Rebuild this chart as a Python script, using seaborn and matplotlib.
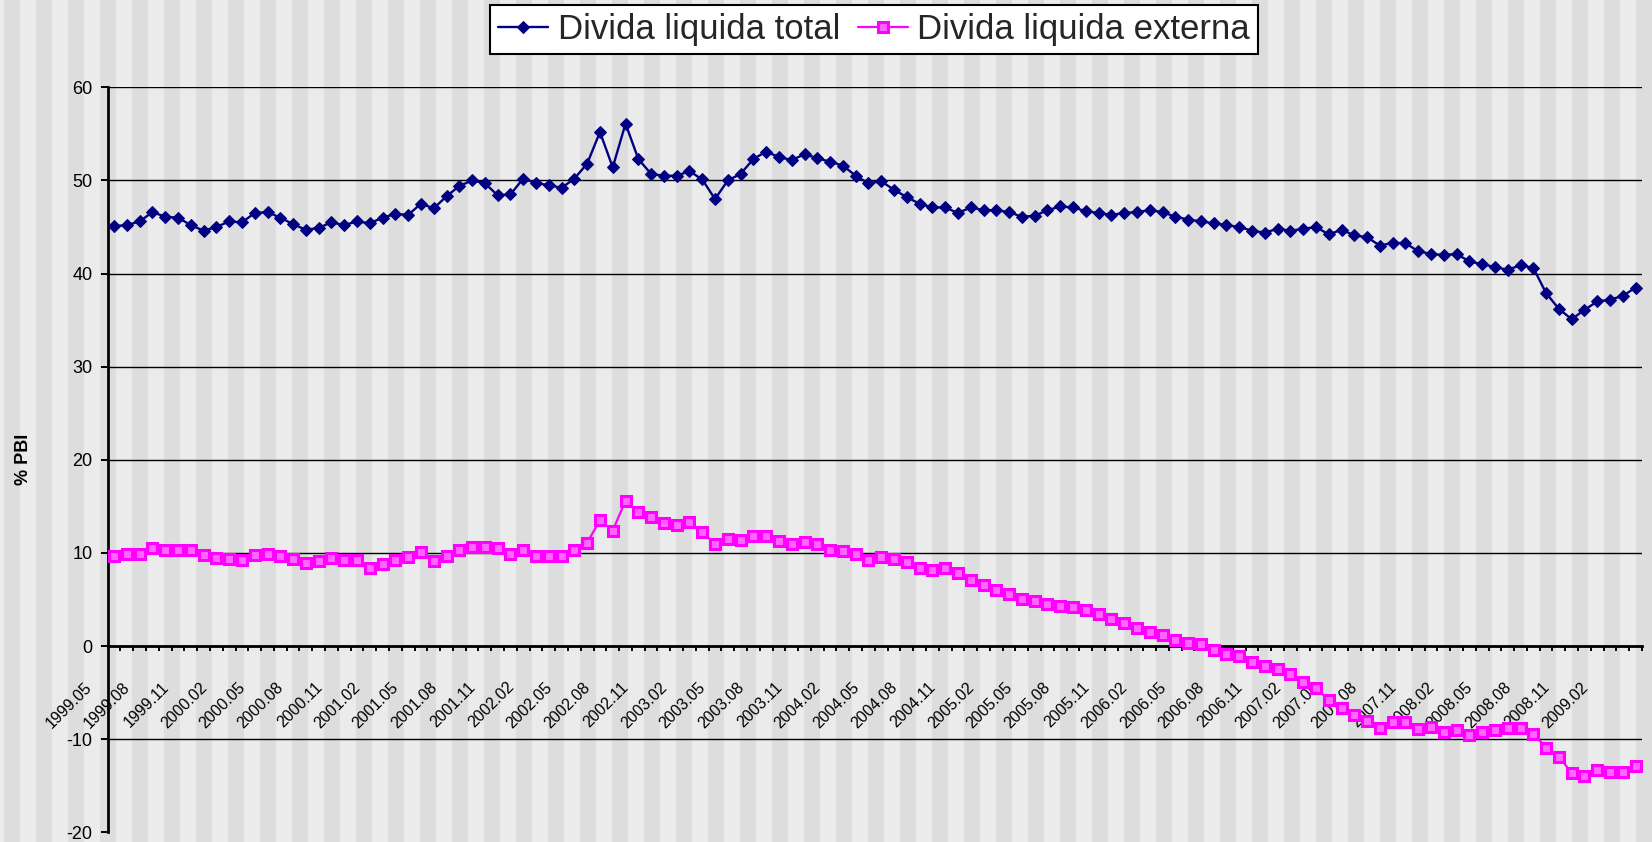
import numpy as np
import pandas as pd
import matplotlib
matplotlib.use("Agg")
import matplotlib.pyplot as plt
import matplotlib.transforms as mtransforms
from matplotlib.patches import Rectangle
import seaborn as sns

# ---------------- data ----------------
months = [f"{p.year}.{p.month:02d}" for p in pd.period_range("1999-05", periods=120, freq="M")]

tick_labels = ["1999.05", "1999.08", "1999.11", "2000.02", "2000.05", "2000.08", "2000.11",
               "2001.02", "2001.05", "2001.08", "2001.11", "2002.02", "2002.05", "2002.08",
               "2002.11", "2003.02", "2003.05", "2003.08", "2003.11", "2004.02", "2004.05",
               "2004.08", "2004.11", "2005.02", "2005.05", "2005.08", "2005.11", "2006.02",
               "2006.05", "2006.08", "2006.11", "2007.02", "2007.05", "2007.08", "2007.11",
               "2008.02", "2008.05", "2008.08", "2008.11", "2009.02"]

divida_total = [
    45.1, 45.2, 45.6, 46.6, 46.1, 46.0, 45.2, 44.6, 45.0, 45.6,
    45.5, 46.5, 46.6, 46.0, 45.3, 44.7, 44.9, 45.5, 45.2, 45.6,
    45.4, 46.0, 46.4, 46.3, 47.5, 47.0, 48.3, 49.4, 50.0, 49.7,
    48.4, 48.5, 50.2, 49.7, 49.5, 49.2, 50.2, 51.8, 55.2, 51.4,
    56.1, 52.3, 50.7, 50.5, 50.5, 51.0, 50.1, 48.0, 50.0, 50.7,
    52.3, 53.1, 52.5, 52.2, 52.8, 52.4, 52.0, 51.6, 50.5, 49.7,
    49.9, 49.0, 48.2, 47.5, 47.1, 47.1, 46.5, 47.1, 46.8, 46.8,
    46.6, 46.1, 46.2, 46.8, 47.2, 47.1, 46.7, 46.5, 46.3, 46.5,
    46.6, 46.8, 46.6, 46.1, 45.8, 45.6, 45.4, 45.2, 45.0, 44.6,
    44.4, 44.8, 44.6, 44.8, 45.0, 44.2, 44.7, 44.1, 43.9, 43.0,
    43.3, 43.25, 42.4, 42.1, 42.0, 42.1, 41.3, 41.0, 40.7, 40.4,
    40.9, 40.6, 37.9, 36.2, 35.1, 36.1, 37.0, 37.2, 37.6, 38.5,
]

divida_externa = [
    9.7, 9.9, 9.9, 10.5, 10.3, 10.3, 10.3, 9.8, 9.5, 9.3,
    9.2, 9.8, 9.9, 9.7, 9.3, 8.9, 9.1, 9.5, 9.2, 9.2,
    8.4, 8.8, 9.2, 9.6, 10.1, 9.1, 9.7, 10.3, 10.6, 10.6,
    10.5, 9.9, 10.3, 9.7, 9.7, 9.7, 10.3, 11.1, 13.5, 12.4,
    15.6, 14.4, 13.9, 13.2, 13.0, 13.3, 12.2, 11.0, 11.5, 11.4,
    11.8, 11.8, 11.3, 11.0, 11.2, 11.0, 10.3, 10.2, 9.9, 9.2,
    9.6, 9.3, 9.0, 8.4, 8.2, 8.4, 7.8, 7.1, 6.6, 6.0,
    5.6, 5.0, 4.8, 4.5, 4.3, 4.2, 3.9, 3.4, 2.9, 2.5,
    1.9, 1.5, 1.15, 0.7, 0.3, 0.2, -0.4, -0.9, -1.1, -1.7,
    -2.15, -2.5, -3.0, -3.9, -4.5, -5.8, -6.7, -7.4, -8.0, -8.8,
    -8.2, -8.2, -8.9, -8.7, -9.2, -9.05, -9.6, -9.2, -9.05, -8.8,
    -8.8, -9.4, -10.9, -11.9, -13.6, -14.0, -13.3, -13.5, -13.5, -12.9,
]

series_names = ["Divida liquida total", "Divida liquida externa"]
y_label = "% PBI"

# ---------------- style ----------------
sns.set_theme(style="white")
plt.rcParams['font.family'] = ['Liberation Sans', 'DejaVu Sans']
plt.rcParams['axes.unicode_minus'] = False

W, H = 1652, 842
fig = plt.figure(figsize=(W / 100, H / 100), dpi=100)
fig.patch.set_facecolor('#EBEBEB')

# striped background (Excel pattern fill)
for x0 in range(4 - 32, W, 32):
    fig.add_artist(Rectangle((x0, 0), 16, H, transform=mtransforms.IdentityTransform(),
                             facecolor='#DDDDDD', edgecolor='none', zorder=-10))

left, right, top, bottom = 107.7, 1642.0, 87.3, 832.3
ax = fig.add_axes([left / W, 1 - bottom / H, (right - left) / W, (bottom - top) / H])
ax.set_facecolor('none')

df = pd.DataFrame({"idx": np.arange(len(months)), "mes": months,
                   series_names[0]: divida_total, series_names[1]: divida_externa})

sns.lineplot(data=df, x="idx", y=series_names[0], ax=ax, sort=False, color='#000080',
             linewidth=1.7, marker='D', markersize=6.5, markeredgecolor='#000080',
             markerfacecolor='#000080', label=series_names[0], zorder=4)
sns.lineplot(data=df, x="idx", y=series_names[1], ax=ax, sort=False, color='#FF00FF',
             linewidth=1.6, marker='s', markersize=7.5, markeredgecolor='#FF00FF',
             markerfacecolor='#FF66FF', markeredgewidth=2.2, label=series_names[1], zorder=3)

ax.set_xlim(-0.5, len(months) - 0.5)
ax.set_ylim(-20, 60)
ax.set_yticks(np.arange(-20, 61, 10))

# spines
for s in ['top', 'right']:
    ax.spines[s].set_visible(False)
ax.spines['bottom'].set_position(('data', 0))
ax.spines['bottom'].set_linewidth(2.0)
ax.spines['bottom'].set_zorder(2.5)
ax.spines['left'].set_linewidth(2.0)
for s in ['bottom', 'left']:
    ax.spines[s].set_color('black')

# x ticks
ax.set_xticks(np.arange(0, len(months), 3))
ax.set_xticklabels(tick_labels)
ax.set_xticks(np.arange(0.5, len(months), 1), minor=True)
ax.tick_params(axis='x', which='minor', direction='out', length=3.5, width=1.4,
               color='black', bottom=True)
ax.tick_params(axis='x', which='major', length=0, pad=24, labelsize=11.5, labelcolor='black')
offset = mtransforms.ScaledTranslation(-30 / 100, 0, fig.dpi_scale_trans)
for lab in ax.get_xticklabels():
    lab.set_rotation(45)
    lab.set_ha('right')
    lab.set_va('top')
    lab.set_rotation_mode('anchor')
    lab.set_transform(lab.get_transform() + offset)

# y ticks
ax.tick_params(axis='y', direction='out', length=5, width=1.4, pad=6, labelsize=13,
               color='black', left=True, labelcolor='black')
ax.yaxis.grid(True, color='black', linewidth=1.0)
ax.xaxis.grid(False)
ax.get_ygridlines()[0].set_visible(False)

ax.set_xlabel('')
ax.set_ylabel(y_label, fontsize=13, fontweight='bold', color='black')
ax.yaxis.set_label_coords((32 - left) / (right - left), 0.5)

leg = ax.legend(loc='center', bbox_to_anchor=(874 / W, 1 - 29.5 / H),
                bbox_transform=fig.transFigure, ncol=2, fontsize=25, frameon=True,
                fancybox=False, edgecolor='black', facecolor='white', framealpha=1,
                borderpad=0.22, handlelength=1.45, handletextpad=0.27,
                columnspacing=0.5, borderaxespad=0, markerscale=0.9)
leg.get_frame().set_linewidth(1.5)

fig.savefig("out.png", dpi=100, facecolor=fig.get_facecolor())
